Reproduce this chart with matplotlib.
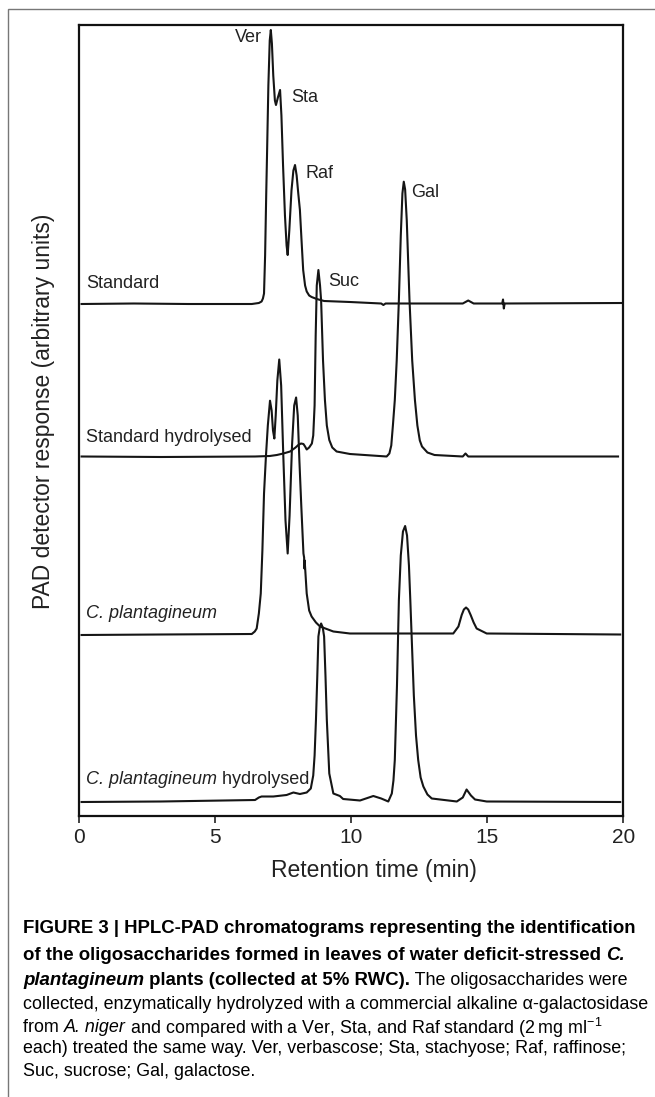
import matplotlib
matplotlib.use("Agg")
import matplotlib.pyplot as plt
from matplotlib.patches import Rectangle

plt.rcParams.update({
    "font.family": ["Liberation Sans", "DejaVu Sans"],
    "mathtext.fontset": "custom",
    "mathtext.rm": "Liberation Sans",
    "mathtext.it": "Liberation Sans:italic",
    "mathtext.bf": "Liberation Sans:bold",
})

# retention time (min) / detector response (arbitrary units)
std_t = [0.08, 2.0, 4.0, 6.34, 6.6, 6.7, 6.75, 6.79, 6.83, 6.87, 6.9, 6.95, 7.0, 7.04, 7.08,
         7.13, 7.19, 7.23, 7.3, 7.38, 7.43, 7.49, 7.56, 7.62, 7.66, 7.72, 7.8, 7.87, 7.93,
         7.99, 8.05, 8.11, 8.17, 8.23, 8.3, 8.36, 8.45, 8.54, 8.73, 9.0, 9.95, 11.1, 11.18,
         11.26, 14.1, 14.3, 14.5, 15.55, 15.58, 15.61, 15.64, 19.97]
std_r = [511.5, 512, 511.5, 511.5, 512.5, 514, 517, 522, 560, 620, 660, 730, 775, 785.5, 772,
         740, 715, 710.5, 718, 725.5, 700, 650, 600, 570, 560.5, 585, 625, 645, 650.5,
         640, 622, 605.5, 575, 545.5, 530, 524, 520, 518.5, 516.5, 514.5, 513.5, 512, 510.5,
         512, 512, 515, 512, 512, 516, 507, 512, 512.5]

stdh_t = [0.08, 3.0, 6.46, 7.0, 7.26, 7.5, 7.75, 7.95, 8.05, 8.15, 8.24, 8.3, 8.36, 8.45, 8.55,
          8.6, 8.65, 8.69, 8.73, 8.79, 8.85, 8.89, 8.96, 9.03, 9.1, 9.19, 9.3, 9.46, 9.95,
          11.3, 11.4, 11.47, 11.53, 11.6, 11.67, 11.75, 11.82, 11.88, 11.93, 11.98, 12.04,
          12.14, 12.24, 12.34, 12.43, 12.52, 12.6, 12.8, 13.06, 14.1, 14.2, 14.3, 19.81]
stdh_r = [359, 358.5, 359, 359.5, 360.5, 362, 364, 368, 370.5, 372, 371.5, 369, 366, 368, 372,
          380, 410, 480, 530, 545.5, 530, 515, 455, 415.5, 390, 375.5, 368, 364, 361.5,
          359, 362, 370, 390, 415.5, 455, 515.5, 580, 622, 633.8, 626, 595,
          515.5, 455, 415.5, 390, 375, 369, 363, 360.5, 359, 362, 359, 359]

cp_t = [0.08, 3.0, 6.34, 6.45, 6.52, 6.6, 6.67, 6.73, 6.79, 6.86, 6.93, 7.01, 7.07, 7.12, 7.17,
        7.22, 7.28, 7.35, 7.42, 7.5, 7.58, 7.66, 7.73, 7.82, 7.9, 7.97, 8.03, 8.09, 8.16, 8.24,
        8.265, 8.275, 8.285, 8.36, 8.45, 8.54, 8.7, 8.85, 9.34, 9.95, 13.75, 13.94, 14.06,
        14.14, 14.22, 14.3, 14.39, 14.5, 14.61, 14.98, 19.89]
cp_r = [180.5, 181, 181.5, 184, 187, 202, 222, 265, 322, 359, 390, 414.8, 405, 385, 377,
        400, 435, 456, 430, 359, 295, 262, 300, 370, 410, 418, 400, 355.5, 310, 262,
        258, 247, 255, 222, 205, 199, 193, 189, 184, 182, 182, 189, 200.5,
        206, 208, 206, 200.5, 193, 187, 182, 181]

cph_t = [0.08, 3.0, 6.46, 6.6, 6.7, 7.13, 7.62, 7.87, 8.11, 8.36, 8.51, 8.6, 8.65, 8.7, 8.75,
         8.79, 8.84, 8.89, 8.95, 9.0, 9.05, 9.1, 9.19, 9.34, 9.58, 9.7, 10.32, 10.81, 11.1,
         11.36, 11.49, 11.55, 11.6, 11.68, 11.75, 11.82, 11.9, 11.98, 12.05, 12.12, 12.17,
         12.3, 12.38, 12.46, 12.55, 12.65, 12.8, 12.96, 13.88, 14.1, 14.24, 14.4, 14.55,
         14.98, 19.89]
cph_r = [13.5, 14, 15.5, 18, 19, 19, 20.5, 23, 21.5, 23, 27, 40, 60, 95.5, 140,
         179, 188, 192, 188, 179, 140, 95.5, 42, 22, 19.5, 16.5, 15, 19.5, 17,
         14, 22, 35, 55.5, 130, 215.5, 260, 284, 289.5, 280, 250, 215.5,
         120, 80, 55.5, 38, 29, 21, 17, 14, 18, 26, 20, 16,
         14, 13.5]

# trace names as (text, style) pieces
trace_names = [
    [("Standard", "normal")],
    [("Standard hydrolysed", "normal")],
    [("C. plantagineum", "italic")],
    [("C. plantagineum", "italic"), (" hydrolysed", "normal")],
]
trace_name_pos = [(0.26, 532.5), (0.26, 378.2), (0.26, 201.5), (0.26, 35.5)]

peak_names = ["Ver", "Sta", "Raf", "Suc", "Gal"]
peak_name_pos = [(6.70, 777.5), (7.78, 718), (8.30, 641.5), (9.14, 533.8), (12.21, 622.8)]
peak_name_ha = ["right", "left", "left", "left", "left"]

xticks = [0, 5, 10, 15, 20]

caption = [
    [("FIGURE 3 | HPLC-PAD chromatograms representing the identification", "bold", "normal")],
    [("of the oligosaccharides formed in leaves of water deficit-stressed ", "bold", "normal"),
     ("C.", "bold", "italic")],
    [("plantagineum", "bold", "italic"), (" plants (collected at 5% RWC).", "bold", "normal"),
     (" The oligosaccharides were", "normal", "normal")],
    [("collected, enzymatically hydrolyzed with a commercial alkaline \u03b1-galactosidase", "normal", "normal")],
    [("from ", "normal", "normal"), ("A. niger", "normal", "italic"),
     (" and compared with a Ver, Sta, and Raf standard (2\u2009mg ml$^{-1}$", "normal", "normal")],
    [("each) treated the same way. Ver, verbascose; Sta, stachyose; Raf, raffinose;", "normal", "normal")],
    [("Suc, sucrose; Gal, galactose.", "normal", "normal")],
]

W, H = 655, 1097
fig = plt.figure(figsize=(W / 100, H / 100), dpi=100)
renderer = fig.canvas.get_renderer()


def piece_width(s, **kw):
    t = fig.text(0, 0, "|" + s + "|", **kw)
    w = t.get_window_extent(renderer).width
    t.set_text("||")
    w -= t.get_window_extent(renderer).width
    t.remove()
    return w


def place_pieces(x, y, parts, va="center"):
    # x, y in display pixels (origin bottom-left)
    for s, kw in parts:
        fig.text(x / W, y / H, s, ha="left", va=va, **kw)
        x += piece_width(s, **kw)


# outer frame of the figure panel
fig.patches.append(Rectangle((7.5 / W, -0.01), 1.0, 1 - 9 / H + 0.01, transform=fig.transFigure,
                             fill=False, edgecolor="#777777", linewidth=1.0))

ax = fig.add_axes([79.4 / W, 1 - 815.5 / H, (623.2 - 79.4) / W, (815.5 - 25) / H])
ink = "#151515"
for t, r in [(std_t, std_r), (stdh_t, stdh_r), (cp_t, cp_r), (cph_t, cph_r)]:
    ax.plot(t, r, color=ink, linewidth=1.5, solid_joinstyle="round")

ax.set_xlim(0, 20)
ax.set_ylim(0, 790.5)
ax.set_yticks([])
ax.set_xticks(xticks)
ax.tick_params(axis="x", direction="out", length=5, width=1.2, pad=4, labelsize=15,
               colors="#222222")
for s in ax.spines.values():
    s.set_linewidth(1.6)
    s.set_color("#111111")

for parts, pos in zip(trace_names, trace_name_pos):
    xd, yd = ax.transData.transform(pos)
    place_pieces(xd, yd, [(s, dict(fontsize=13, fontstyle=st, color="#222222"))
                          for s, st in parts])
for name, (x, y), ha in zip(peak_names, peak_name_pos, peak_name_ha):
    ax.text(x, y, name, fontsize=13, ha=ha, va="center", color="#222222")

fig.text(374 / W, 1 - 870 / H, "Retention time (min)", fontsize=16.5, ha="center", va="center",
         color="#222222")
fig.text(44 / W, 1 - 411 / H, "PAD detector response (arbitrary units)", fontsize=16.5,
         rotation=90, ha="center", va="center", color="#222222")

# caption, pieces placed one after another
line_y = [926.7, 953.3, 978.3, 1002.7, 1025, 1046.7, 1070]
for parts, y in zip(caption, line_y):
    pieces = []
    for s, weight, style in parts:
        size = 13.4 if weight == "bold" else 12.9
        pieces.append((s, dict(fontsize=size, fontweight=weight, fontstyle=style, color="black")))
    place_pieces(23, H - y, pieces, va="center_baseline")

fig.savefig("out.png", dpi=100)
